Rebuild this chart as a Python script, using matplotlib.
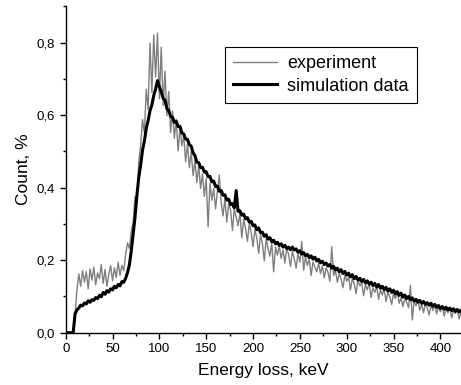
import numpy as np
import matplotlib
matplotlib.use("Agg")
import matplotlib.pyplot as plt
from matplotlib.ticker import MultipleLocator, FuncFormatter

plt.rcParams["font.family"] = ["Liberation Sans", "DejaVu Sans"]

STEP = 2  # keV per channel

# measured spectrum, 0..422 keV
experiment = [
    0, 0, 0, 0, 0,
    0.046, 0.118, 0.162, 0.128, 0.171,
    0.139, 0.168, 0.121, 0.176, 0.145,
    0.181, 0.132, 0.165, 0.149, 0.188,
    0.136, 0.174, 0.128, 0.161, 0.185,
    0.143, 0.179, 0.152, 0.194, 0.158,
    0.186, 0.171, 0.215, 0.248, 0.232,
    0.281, 0.304, 0.375, 0.358, 0.472,
    0.515, 0.588, 0.551, 0.671, 0.615,
    0.798, 0.662, 0.821, 0.705, 0.826,
    0.645, 0.787, 0.626, 0.721, 0.598,
    0.665, 0.552, 0.611, 0.536, 0.588,
    0.501, 0.565, 0.515, 0.544, 0.471,
    0.521, 0.455, 0.498, 0.433, 0.475,
    0.414, 0.461, 0.398, 0.438, 0.376,
    0.425, 0.292, 0.412, 0.365, 0.398,
    0.341, 0.392, 0.435, 0.358, 0.322,
    0.371, 0.305, 0.354, 0.338, 0.282,
    0.341, 0.318, 0.295, 0.329, 0.262,
    0.312, 0.288, 0.252, 0.301, 0.276,
    0.237, 0.284, 0.262, 0.219, 0.271,
    0.245, 0.198, 0.258, 0.232, 0.211,
    0.247, 0.168, 0.236, 0.214, 0.239,
    0.205, 0.228, 0.192, 0.236, 0.214,
    0.183, 0.225, 0.204, 0.178, 0.219,
    0.194, 0.251, 0.172, 0.209, 0.186,
    0.201, 0.158, 0.195, 0.181, 0.168,
    0.192, 0.163, 0.184, 0.151, 0.179,
    0.166, 0.142, 0.237, 0.158, 0.171,
    0.139, 0.164, 0.148, 0.124, 0.158,
    0.142, 0.153, 0.118, 0.149, 0.134,
    0.108, 0.146, 0.129, 0.137, 0.102,
    0.132, 0.118, 0.138, 0.097, 0.124,
    0.111, 0.128, 0.092, 0.119, 0.104,
    0.121, 0.086, 0.112, 0.099, 0.078,
    0.108, 0.094, 0.115, 0.081, 0.097,
    0.072, 0.093, 0.084, 0.069, 0.131,
    0.035, 0.088, 0.074, 0.091, 0.062,
    0.079, 0.055, 0.082, 0.068, 0.049,
    0.076, 0.061, 0.079, 0.052, 0.071,
    0.058, 0.074, 0.046, 0.066, 0.055,
    0.069, 0.041, 0.062, 0.053, 0.064,
    0.038, 0.057,
]

# simulated spectrum, same channels
simulation = [
    0, 0, 0, 0, 0,
    0.052, 0.063, 0.068, 0.076, 0.074,
    0.082, 0.079, 0.088, 0.084, 0.091,
    0.089, 0.097, 0.094, 0.103, 0.099,
    0.111, 0.106, 0.116, 0.112, 0.121,
    0.118, 0.128, 0.124, 0.133, 0.129,
    0.141, 0.139, 0.150, 0.166, 0.187,
    0.226, 0.272, 0.318, 0.378, 0.428,
    0.462, 0.503, 0.528, 0.563, 0.585,
    0.612, 0.628, 0.654, 0.672, 0.695,
    0.678, 0.664, 0.646, 0.641, 0.618,
    0.612, 0.596, 0.594, 0.580, 0.583,
    0.568, 0.569, 0.551, 0.548, 0.534,
    0.533, 0.519, 0.514, 0.496, 0.488,
    0.470, 0.469, 0.455, 0.456, 0.443,
    0.444, 0.430, 0.431, 0.416, 0.418,
    0.403, 0.404, 0.390, 0.392, 0.379,
    0.380, 0.366, 0.368, 0.353, 0.356,
    0.344, 0.392, 0.335, 0.336, 0.324,
    0.327, 0.314, 0.317, 0.305, 0.307,
    0.295, 0.297, 0.284, 0.289, 0.276,
    0.277, 0.266, 0.270, 0.258, 0.262,
    0.251, 0.255, 0.245, 0.249, 0.241,
    0.245, 0.236, 0.241, 0.232, 0.236,
    0.229, 0.236, 0.228, 0.231, 0.222,
    0.226, 0.217, 0.221, 0.212, 0.216,
    0.207, 0.212, 0.203, 0.208, 0.198,
    0.202, 0.193, 0.197, 0.188, 0.192,
    0.184, 0.188, 0.178, 0.183, 0.173,
    0.178, 0.168, 0.174, 0.163, 0.169,
    0.159, 0.164, 0.154, 0.160, 0.149,
    0.155, 0.145, 0.150, 0.141, 0.147,
    0.137, 0.143, 0.134, 0.139, 0.130,
    0.136, 0.126, 0.133, 0.123, 0.128,
    0.119, 0.125, 0.115, 0.121, 0.111,
    0.117, 0.107, 0.113, 0.103, 0.109,
    0.098, 0.104, 0.094, 0.100, 0.091,
    0.096, 0.087, 0.092, 0.084, 0.089,
    0.081, 0.086, 0.078, 0.083, 0.076,
    0.081, 0.073, 0.078, 0.070, 0.075,
    0.067, 0.072, 0.065, 0.070, 0.063,
    0.068, 0.061, 0.066, 0.059, 0.064,
    0.057, 0.062,
]

energy_exp = np.arange(len(experiment)) * STEP
energy_sim = np.arange(len(simulation)) * STEP

fig = plt.figure(figsize=(4.61, 3.85), dpi=100)
ax = fig.add_axes([0.1425, 0.1358, 0.8575, 0.848])

ax.plot(energy_exp, experiment, color="#7f7f7f", lw=1.0, label="experiment")
ax.plot(energy_sim, simulation, color="black", lw=2.2, label="simulation data")

ax.set_xlim(0, 422)
ax.set_ylim(0, 0.9)

ax.spines["top"].set_visible(False)
ax.spines["right"].set_visible(False)
for s in ("left", "bottom"):
    ax.spines[s].set_linewidth(1.0)

ax.xaxis.set_major_locator(MultipleLocator(50))
ax.xaxis.set_minor_locator(MultipleLocator(25))
ax.yaxis.set_major_locator(MultipleLocator(0.2))
ax.yaxis.set_minor_locator(MultipleLocator(0.1))
ax.yaxis.set_major_formatter(FuncFormatter(lambda v, p: f"{v:.1f}".replace(".", ",")))
ax.tick_params(which="major", direction="out", length=4, width=1, labelsize=9.5)
ax.tick_params(which="minor", direction="out", length=2.5, width=1)

ax.set_xlabel("Energy loss, keV", fontsize=12.5, labelpad=6)
ax.set_ylabel("Count, %", fontsize=12.5, labelpad=4)

leg = ax.legend(loc="upper left", bbox_to_anchor=(0.488, 0.878),
                bbox_transform=fig.transFigure, fontsize=13,
                frameon=True, fancybox=False, edgecolor="black",
                framealpha=1, borderaxespad=0, borderpad=0.45,
                handlelength=2.45, handletextpad=0.55, labelspacing=0.3)
leg.get_frame().set_linewidth(0.8)

fig.savefig("out.png", dpi=100)
